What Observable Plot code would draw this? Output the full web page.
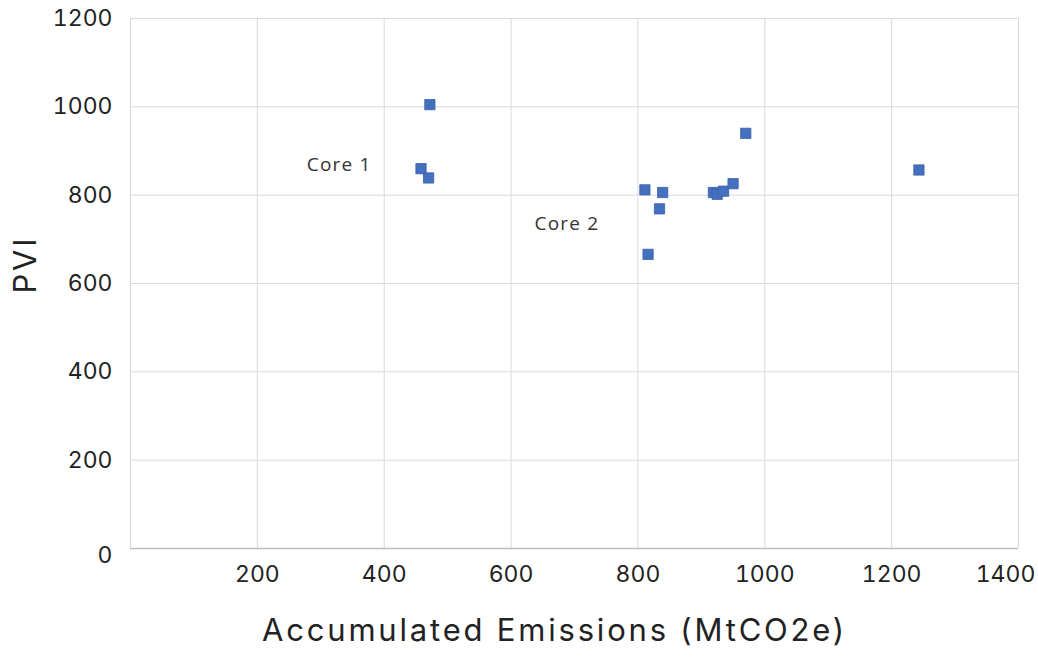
<!DOCTYPE html>
<html>
<head>
<meta charset="utf-8">
<script src="https://cdn.jsdelivr.net/npm/d3@7"></script>
<script src="https://cdn.jsdelivr.net/npm/@observablehq/plot@0.6"></script>
<style>
  html, body { margin: 0; padding: 0; background: #ffffff; }
  #chart svg { display: block; }
  .wide text { letter-spacing: 2.8px; }
  .note text { letter-spacing: 1.2px; }
</style>
</head>
<body>
<div id="chart"></div>
<script>
const emissions = [472, 458, 470, 811, 839, 834, 816, 919, 925, 935, 950, 970, 1243];
const pvi       = [1005, 860, 839, 812, 806, 769, 666, 806, 802, 809, 826, 940, 857];
const xTicks = [200, 400, 600, 800, 1000, 1200, 1400];
const yTicks = [0, 200, 400, 600, 800, 1000, 1200];
const annotations = ["Core 1", "Core 2"];
const annX = [329, 688];
const annY = [869, 736];
const xTitle = "Accumulated Emissions (MtCO2e)";
const yTitle = "PVI";

const points = emissions.map((x, i) => ({x, y: pvi[i]}));
const notes = annotations.map((t, i) => ({t, x: annX[i], y: annY[i]}));

const font = "Inter, 'Open Sans', sans-serif";
const fmt = d => String(d);
const tickStyle = {tickSize: 0, fontSize: 23, fill: "#222", label: null, tickFormat: fmt};

const chart = Plot.plot({
  width: 1038,
  height: 657,
  marginLeft: 130,
  marginRight: 20,
  marginTop: 18,
  marginBottom: 109,
  style: {fontFamily: font, background: "#ffffff"},
  x: {domain: [0, 1400]},
  y: {domain: [0, 1200]},
  marks: [
    Plot.gridX(xTicks, {stroke: "#d9d9d9", strokeOpacity: 1}),
    Plot.gridY(yTicks, {stroke: "#d9d9d9", strokeOpacity: 1}),
    Plot.ruleX([0], {stroke: "#d9d9d9"}),
    Plot.ruleY([0], {stroke: "#bfbfbf", strokeWidth: 1.5}),
    Plot.axisX(xTicks.filter(d => d !== 1400), {...tickStyle, tickPadding: 17}),
    Plot.axisX([1400], {...tickStyle, tickPadding: 17, dx: -13}),
    Plot.axisY(yTicks.filter(d => d !== 0), {...tickStyle, tickPadding: 18}),
    Plot.axisY([0], {...tickStyle, tickPadding: 18, dy: 7}),
    Plot.text([xTitle], {frameAnchor: "bottom", dx: -20, dy: 92, fontSize: 31, fill: "#222", className: "wide"}),
    Plot.text([yTitle], {frameAnchor: "left", dx: -104, dy: 10, rotate: -90, fontSize: 31, fill: "#222", className: "wide"}),
    Plot.text(notes, {x: "x", y: "y", text: "t", fontSize: 19, fill: "#333", fontFamily: "'Open Sans', sans-serif", className: "note"}),
    Plot.dot(points, {x: "x", y: "y", symbol: "square", r: 5.8, fill: "#4470BF", stroke: "#3a5fa8", strokeWidth: 0.8})
  ]
});
document.getElementById("chart").append(chart);
</script>
</body>
</html>
